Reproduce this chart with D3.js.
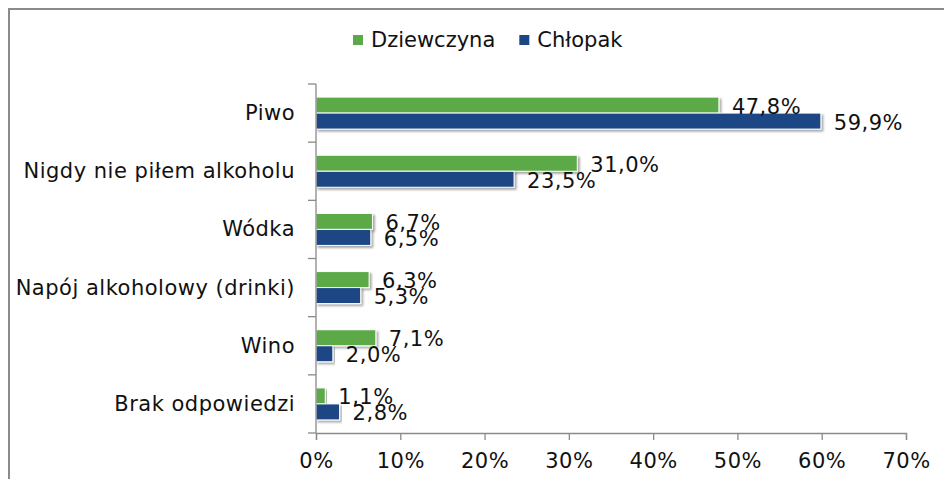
<!DOCTYPE html>
<html>
<head>
<meta charset="utf-8">
<script src="https://cdn.jsdelivr.net/npm/d3@7"></script>
<style>
  html, body { margin: 0; padding: 0; background: #fff; }
  svg { display: block; }
  text { font-family: "DejaVu Sans", Verdana, sans-serif; fill: #111; letter-spacing: 0.5px; }
  .legend text { letter-spacing: 0; }
</style>
</head>
<body>
<svg id="chart" width="944" height="479"></svg>
<script>
// Drinks first tried, by gender (percent of respondents)
const categories = ["Piwo", "Nigdy nie piłem alkoholu", "Wódka", "Napój alkoholowy (drinki)", "Wino", "Brak odpowiedzi"];
const seriesNames = ["Dziewczyna", "Chłopak"];
const girls = [47.8, 31.0, 6.7, 6.3, 7.1, 1.1];
const boys = [59.9, 23.5, 6.5, 5.3, 2.0, 2.8];
const xTicks = [0, 10, 20, 30, 40, 50, 60, 70];

const colors = { "Dziewczyna": "#5BAA47", "Chłopak": "#1B4784" };
const fontSize = 21;

const svg = d3.select("#chart");

// outer frame
svg.append("path")
  .attr("d", "M9,479 V9 H944")
  .attr("fill", "none")
  .attr("stroke", "#8a8a8a")
  .attr("stroke-width", 2);

const defs = svg.append("defs");
const shadow = defs.append("filter").attr("id", "shadow")
  .attr("x", "-5%").attr("y", "-30%").attr("width", "115%").attr("height", "180%");
shadow.append("feDropShadow")
  .attr("dx", 2).attr("dy", 2).attr("stdDeviation", 1.3)
  .attr("flood-color", "#000").attr("flood-opacity", 0.35);

const plot = { left: 316, right: 906, top: 84, bottom: 433 };

const x = d3.scaleLinear().domain([0, 70]).range([plot.left, plot.right]);
const y = d3.scaleBand().domain(categories).range([plot.top, plot.bottom]).paddingInner(0.45).paddingOuter(0.225);
const sub = d3.scaleBand().domain(seriesNames).range([0, y.bandwidth()]).padding(0);

const rows = categories.map((c, i) => ({ cat: c, values: [
  { name: "Dziewczyna", v: girls[i] },
  { name: "Chłopak", v: boys[i] }
]}));

const g = svg.append("g");

const groups = g.selectAll("g.cat").data(rows).join("g")
  .attr("class", "cat")
  .attr("transform", d => `translate(0,${y(d.cat)})`);

groups.selectAll("rect").data(d => d.values).join("rect")
  .attr("x", x(0))
  .attr("y", d => sub(d.name))
  .attr("width", d => x(d.v) - x(0))
  .attr("height", sub.bandwidth())
  .attr("fill", d => colors[d.name])
  .attr("stroke", "#fff")
  .attr("stroke-width", 1)
  .attr("filter", "url(#shadow)");

groups.selectAll("text.val").data(d => d.values).join("text")
  .attr("class", "val")
  .attr("x", d => x(d.v) + 13)
  .attr("y", d => sub(d.name) + sub.bandwidth() / 2 + 1.5)
  .attr("dominant-baseline", "central")
  .attr("font-size", fontSize)
  .text(d => d.v.toFixed(1).replace(".", ",") + "%");

// category axis
const axisColor = "#8a8a8a";
const yAxis = svg.append("g");
yAxis.append("line")
  .attr("x1", plot.left).attr("x2", plot.left)
  .attr("y1", plot.top).attr("y2", plot.bottom)
  .attr("stroke", axisColor).attr("stroke-width", 1.3);
const step = (plot.bottom - plot.top) / categories.length;
yAxis.selectAll("line.tick").data(d3.range(categories.length + 1)).join("line")
  .attr("class", "tick")
  .attr("x1", plot.left - 8).attr("x2", plot.left)
  .attr("y1", i => plot.top + i * step).attr("y2", i => plot.top + i * step)
  .attr("stroke", axisColor).attr("stroke-width", 1.3);
yAxis.selectAll("text").data(categories).join("text")
  .attr("x", plot.left - 21)
  .attr("y", c => y(c) + y.bandwidth() / 2)
  .attr("text-anchor", "end")
  .attr("dominant-baseline", "central")
  .attr("font-size", fontSize)
  .text(c => c);

// value axis
const xAxis = svg.append("g").attr("transform", `translate(0,${plot.bottom})`)
  .call(d3.axisBottom(x).tickValues(xTicks).tickSize(7).tickPadding(13).tickFormat(d => d + "%"));
xAxis.select(".domain").attr("stroke", axisColor).attr("stroke-width", 1.3);
xAxis.selectAll(".tick line").attr("stroke", axisColor).attr("stroke-width", 1.3);
xAxis.selectAll(".tick text")
  .attr("font-family", "DejaVu Sans, Verdana, sans-serif")
  .attr("font-size", fontSize)
  .attr("fill", "#111");

// legend
const legend = svg.append("g").attr("class", "legend").attr("transform", "translate(353,40)");
let lx = 0;
seriesNames.forEach(name => {
  const item = legend.append("g").attr("transform", `translate(${lx},0)`);
  item.append("rect").attr("x", 0).attr("y", -5).attr("width", 10).attr("height", 10).attr("fill", colors[name]);
  const t = item.append("text").attr("x", 18).attr("y", 0)
    .attr("dominant-baseline", "central").attr("font-size", fontSize).text(name);
  lx += 18 + t.node().getComputedTextLength() + 24;
});
</script>
</body>
</html>
